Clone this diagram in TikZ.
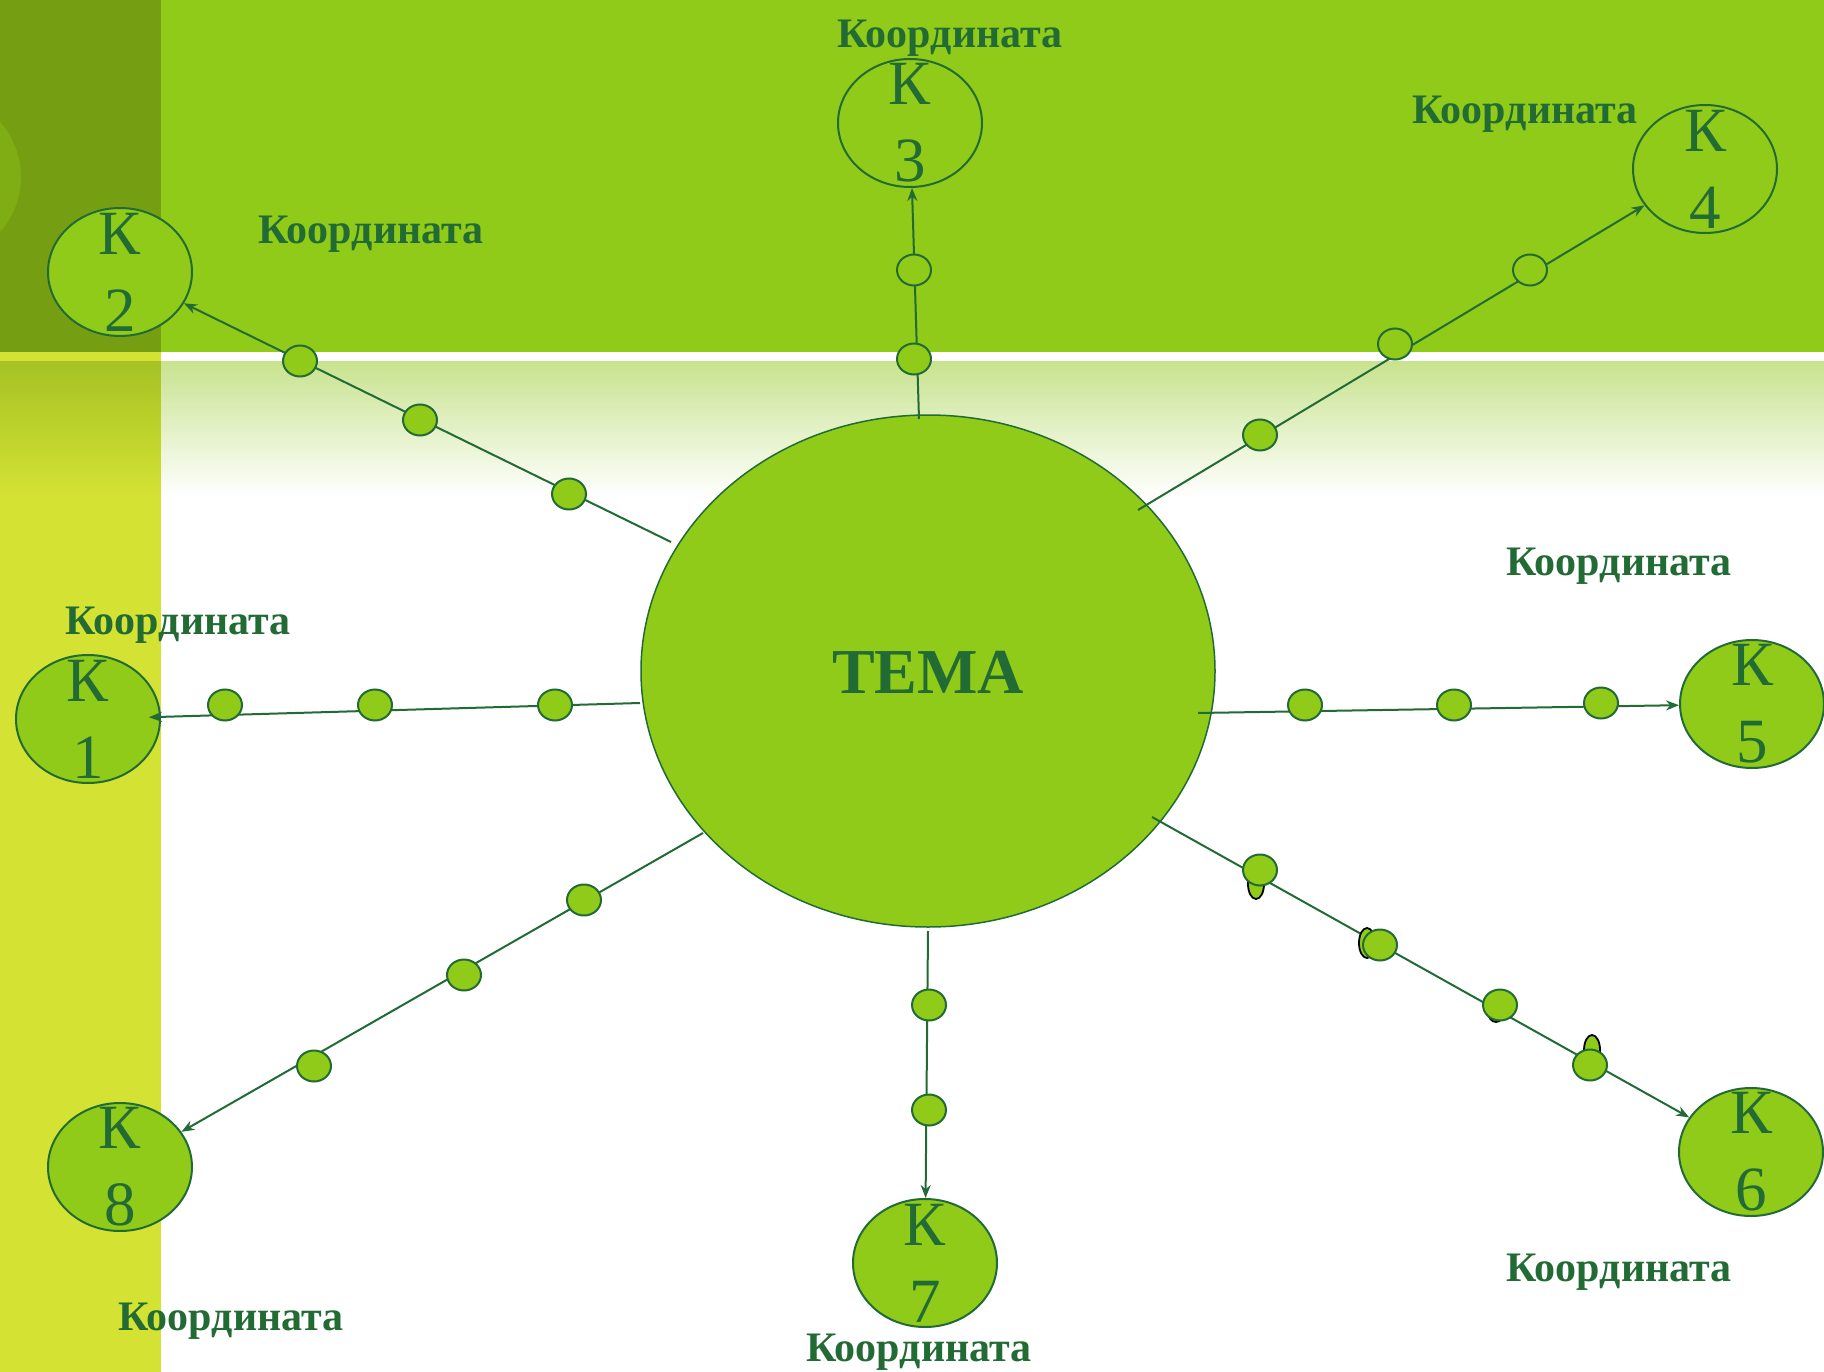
\documentclass[tikz,border=0pt]{standalone}
\usepackage{fontspec}
\setmainfont{Liberation Serif}
\usetikzlibrary{arrows.meta,shapes.geometric}
\definecolor{lime}{HTML}{8FCB18}
\definecolor{darkcol}{HTML}{769E13}
\definecolor{txtgreen}{HTML}{226B35}
\definecolor{yel}{HTML}{D4E234}
\definecolor{olivec}{HTML}{A6C224}
\definecolor{palegreen}{HTML}{C8E38F}
\definecolor{leftcirc}{HTML}{7FAE14}
\tikzset{
  kell/.style={ellipse, draw=txtgreen, line width=2pt, fill=lime, minimum width=144pt, minimum height=128pt, inner sep=0pt},
  dotnode/.style={ellipse, draw=txtgreen, line width=2pt, fill=lime, minimum width=34pt, minimum height=31pt, inner sep=0pt},
  blob/.style={ellipse, draw=black, line width=1.8pt, fill=lime, minimum width=16pt, minimum height=30pt, inner sep=0pt},
  conn/.style={draw=txtgreen, line width=2pt, -{Stealth[length=13pt,width=10pt]}},
  lbl/.style={text=txtgreen, font=\fontsize{42}{50}\selectfont\bfseries, inner sep=0pt, anchor=base},
  ktext/.style={text=txtgreen, font=\fontsize{63}{77}\selectfont, align=center, inner sep=0pt},
}
\begin{document}
\begin{tikzpicture}[x=1pt,y=-1pt]
\useasboundingbox (0,0) rectangle (1824,1372);
% background
\fill[white] (0,0) rectangle (1824,1372);
\fill[lime] (0,0) rectangle (1824,352);
\fill[darkcol] (0,0) rectangle (161,352);
\begin{scope}
\clip (0,0) rectangle (161,352);
\fill[leftcirc] (-61.5,177) circle[radius=82.5];
\end{scope}
\fill[yel] (0,352) rectangle (161,1372);
\shade[top color=olivec, bottom color=yel] (0,362) rectangle (161,497);
\shade[top color=palegreen, bottom color=white] (161,362) rectangle (1824,497);

% main topic
\node[ellipse, draw=txtgreen, line width=1.5pt, fill=lime, minimum width=574pt, minimum height=512pt, inner sep=0pt] (T) at (928,671) {};
\node[text=txtgreen, font=\fontsize{64}{70}\selectfont\bfseries, inner sep=0pt] (Tt) at (928,672) {ТЕМА};

% satellites
\node[kell] (K1) at (88,719) {};
\node[kell] (K2) at (120,272) {};
\node[kell] (K3) at (910,123) {};
\node[kell] (K4) at (1705,169) {};
\node[kell] (K5) at (1752,704) {};
\node[kell] (K6) at (1751,1152) {};
\node[kell] (K7) at (925,1263) {};
\node[kell] (K8) at (120,1167) {};

% connector start points
\coordinate (s1) at (640,703);
\coordinate (s2) at (671,542);
\coordinate (s3) at (919,419);
\coordinate (s4) at (1138,510);
\coordinate (s5) at (1198,713);
\coordinate (s6) at (1152,817);
\coordinate (s7) at (928,931);
\coordinate (s8) at (703,833);

\draw[conn, shorten >=-12pt] (s1) -- (K1);
\foreach \i in {2,...,8} {\draw[conn] (s\i) -- (K\i);}

% stray shapes behind dots
\node[blob] (b1) at (1256,884) {};
\node[blob] (b2) at (1367,943) {};
\node[blob, minimum height=20pt] (b3) at (1496,1012) {};
\node[blob] (b4) at (1592,1050) {};

% dots
\node[dotnode] (d11) at (225,705) {};
\node[dotnode] (d12) at (375,705) {};
\node[dotnode] (d13) at (555,705) {};
\node[dotnode] (d21) at (300,361) {};
\node[dotnode] (d22) at (420,420) {};
\node[dotnode] (d23) at (569,494) {};
\node[dotnode] (d31) at (914,359) {};
\node[dotnode] (d32) at (914,270) {};
\node[dotnode] (d41) at (1260,435) {};
\node[dotnode] (d42) at (1395,344) {};
\node[dotnode] (d43) at (1530,270) {};
\node[dotnode] (d51) at (1305,705) {};
\node[dotnode] (d52) at (1454,705) {};
\node[dotnode] (d53) at (1601,703) {};
\node[dotnode] (d61) at (1260,870) {};
\node[dotnode] (d62) at (1380,945) {};
\node[dotnode] (d63) at (1500,1005) {};
\node[dotnode] (d64) at (1590,1065) {};
\node[dotnode] (d71) at (929,1005) {};
\node[dotnode] (d72) at (929,1110) {};
\node[dotnode] (d81) at (584,900) {};
\node[dotnode] (d82) at (464,975) {};
\node[dotnode] (d83) at (314,1066) {};

% satellite texts
\node[ktext] (K1t) at (K1) {К\\1};
\node[ktext] (K2t) at (K2) {К\\2};
\node[ktext] (K3t) at (K3) {К\\3};
\node[ktext] (K4t) at (K4) {К\\4};
\node[ktext] (K5t) at (K5) {К\\5};
\node[ktext] (K6t) at (K6) {К\\6};
\node[ktext] (K7t) at (K7) {К\\7};
\node[ktext] (K8t) at (K8) {К\\8};

% labels
\node[lbl] (L3) at (950,48) {Координата};
\node[lbl] (L4) at (1525,124) {Координата};
\node[lbl] (L2) at (371,244) {Координата};
\node[lbl] (L1) at (178,634) {Координата};
\node[lbl] (L5) at (1619,575) {Координата};
\node[lbl] (L6) at (1619,1281) {Координата};
\node[lbl] (L8) at (231,1330) {Координата};
\node[lbl] (L7) at (919,1361) {Координата};
\end{tikzpicture}
\end{document}
